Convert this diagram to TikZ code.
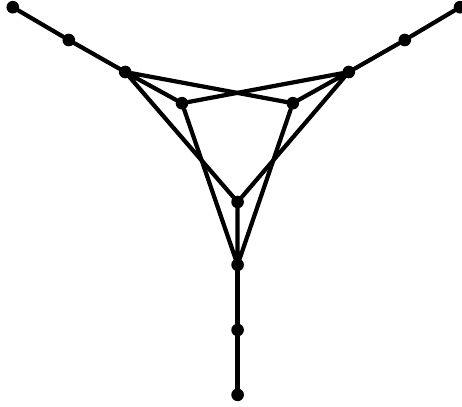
\documentclass[tikz,border=0pt]{standalone}
\begin{document}
\begin{tikzpicture}[line join=round,line cap=round,
	dot/.style={circle,fill,inner sep=0pt,minimum size=9pt},
	edge/.style={line width=3pt}]
	% --- Khung hình ---
	\useasboundingbox (0,0) rectangle (11.55,-10.15);
	
	% --- Các đỉnh ---
	\node[dot] (a) at (0.32,-0.18) {};
	\node[dot] (b) at (1.72,-1.0) {};
	\node[dot] (c) at (3.13,-1.8) {};
	\node[dot] (d) at (4.55,-2.58) {};
	\node[dot] (e) at (7.32,-2.58) {};
	\node[dot] (f) at (8.72,-1.8) {};
	\node[dot] (g) at (10.12,-1.0) {};
	\node[dot] (h) at (11.5,-0.18) {};
	\node[dot] (i) at (5.94,-5.05) {};
	\node[dot] (j) at (5.94,-6.62) {};
	\node[dot] (k) at (5.94,-8.25) {};
	\node[dot] (l) at (5.94,-9.87) {};
	
	% --- Các cạnh ---
	\draw[edge] (a)--(b)--(c);
	\draw[edge] (h)--(g)--(f);
	\draw[edge] (l)--(k)--(j);
	\draw[edge] (c)--(d) (c)--(e) (c)--(i);
	\draw[edge] (f)--(e) (f)--(d) (f)--(i);
	\draw[edge] (j)--(d) (j)--(e) (j)--(i);
\end{tikzpicture}
\end{document}
